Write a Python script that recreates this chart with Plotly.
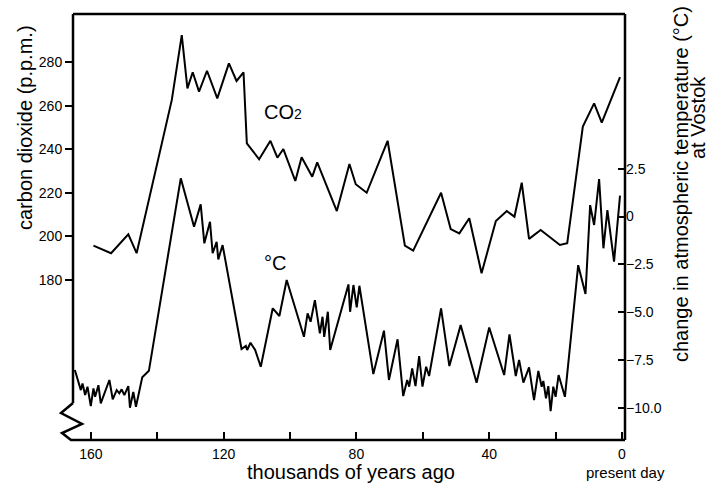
import plotly.graph_objects as go

# ---------------- data ----------------
co2_age = [159.2, 153.9, 148.7, 146.2, 135.6, 132.6, 130.9, 129.3, 127.4, 125.0,
           121.9, 118.4, 116.1, 114.0, 113.0, 109.3, 105.9, 103.8, 102.0, 98.4,
           96.5, 93.3, 91.8, 85.9, 82.1, 80.2, 76.9, 70.6, 65.4, 62.9,
           54.5, 51.6, 49.0, 46.0, 42.3, 38.0, 34.7, 32.4, 30.2, 28.0,
           24.5, 18.7, 16.5, 11.8, 8.4, 6.1, 0.6]
co2_ppm = [195.8, 192.3, 201.0, 192.3, 262.8, 292.6, 268.1, 275.5, 266.6, 276.2,
           263.5, 279.6, 271.5, 275.5, 242.8, 235.5, 244.0, 236.2, 240.2, 225.5,
           236.4, 227.5, 234.1, 211.7, 233.3, 224.0, 220.1, 244.0, 195.8, 193.5,
           220.1, 203.4, 201.4, 208.4, 183.1, 207.1, 211.7, 209.1, 224.7, 198.9,
           203.0, 196.1, 196.9, 250.5, 261.2, 252.3, 273.3]

temp_age = [164.8, 163.0, 162.5, 161.7, 161.0, 160.0, 159.2, 158.7, 157.7, 157.0,
            154.4, 153.4, 152.2, 151.4, 150.7, 149.9, 148.7, 148.2, 147.2, 146.4,
            144.5, 142.5, 132.9, 128.9, 126.9, 125.8, 124.1, 123.3, 122.1, 121.6,
            120.3, 114.6, 113.3, 112.9, 111.9, 110.5, 108.8, 105.2, 103.2, 101.0,
            95.8, 94.7, 93.8, 92.5, 91.0, 90.2, 89.7, 88.6, 87.9, 82.4,
            81.9, 80.9, 79.9, 79.1, 74.9, 71.7, 70.2, 67.6, 65.9, 64.7,
            64.1, 63.2, 62.2, 61.1, 60.1, 59.0, 58.1, 54.5, 52.0, 48.6,
            43.8, 40.0, 35.5, 33.9, 32.0, 31.0, 29.7, 28.0, 26.5, 25.2,
            24.2, 23.7, 22.9, 22.2, 21.5, 20.7, 20.0, 19.1, 17.2, 13.2,
            11.0, 9.6, 8.4, 6.9, 5.6, 4.4, 2.4, 0.6]
temp_change = [-8.03, -9.08, -8.73, -9.34, -8.90, -9.91, -8.99, -9.43, -8.82, -9.77,
               -8.55, -9.56, -9.08, -9.25, -9.04, -9.34, -8.87, -10.00, -9.17, -9.95,
               -8.41, -8.07, 2.00, -0.53, 0.64, -1.40, -0.27, -1.92, -1.32, -2.24,
               -1.49, -6.93, -6.77, -6.98, -6.60, -6.98, -7.86, -4.80, -5.20, -3.32,
               -6.29, -5.06, -5.50, -4.37, -6.11, -5.24, -6.29, -4.98, -6.98, -3.55,
               -4.98, -3.58, -4.75, -3.62, -8.24, -5.97, -8.55, -6.42, -9.39, -8.55,
               -8.90, -7.94, -8.87, -7.30, -8.90, -7.86, -8.34, -4.80, -7.82, -5.68,
               -8.69, -5.80, -8.29, -6.16, -8.34, -7.50, -8.69, -7.89, -9.60, -8.08,
               -8.90, -8.60, -9.51, -8.87, -10.18, -8.90, -9.43, -8.29, -9.43, -2.54,
               -4.05, 0.60, -0.44, 1.96, -1.66, 0.34, -2.36, 1.10]

x_tickvals = [160, 140, 120, 100, 80, 60, 40, 20, 0]
x_ticktext = ["160", "", "120", "", "80", "", "40", "", "0"]
co2_tickvals = [180, 200, 220, 240, 260, 280]
temp_tickvals = [-10, -7.5, -5, -2.5, 0, 2.5]
temp_ticktext = ["\u221210.0", "\u22127.5", "\u22125.0", "\u22122.5", "0", "2.5"]

FONT = "Liberation Sans, Arial, Helvetica, sans-serif"

# ---------------- layout geometry ----------------
W, H = 708, 483
L, R, T, B = 73, 625, 14, 440          # plot area in pixels
pw, ph = R - L, B - T


def px(xp):
    return (xp - L) / pw


def py(yp):
    return (B - yp) / ph


fig = go.Figure()
fig.add_trace(go.Scatter(x=co2_age, y=co2_ppm, mode="lines",
                         line=dict(color="black", width=2), yaxis="y",
                         showlegend=False, hoverinfo="skip"))
fig.add_trace(go.Scatter(x=temp_age, y=temp_change, mode="lines",
                         line=dict(color="black", width=2), yaxis="y2",
                         showlegend=False, hoverinfo="skip"))

axis_common = dict(showgrid=False, zeroline=False, showline=False,
                   tickcolor="black", tickwidth=2,
                   tickfont=dict(family=FONT, size=14, color="black"))

fig.update_layout(
    width=W, height=H,
    margin=dict(l=L, r=W - R, t=T, b=H - B, pad=0),
    paper_bgcolor="white", plot_bgcolor="white",
    font=dict(family=FONT, color="black"),
    xaxis=dict(range=[165.36, -0.9], tickmode="array", tickvals=x_tickvals,
               ticktext=x_ticktext, ticks="inside", ticklen=8,
               ticklabelstandoff=4, **axis_common),
    yaxis=dict(range=[106.4, 302.3], tickmode="array", tickvals=co2_tickvals,
               ticks="outside", ticklen=7, **axis_common),
    yaxis2=dict(range=[-11.69, 10.6], overlaying="y", side="right",
                tickmode="array", tickvals=temp_tickvals, ticktext=temp_ticktext,
                ticks="inside", ticklen=7, **axis_common),
)

frame = dict(color="black", width=2.5)
shapes = [
    dict(type="line", xref="paper", yref="paper", x0=0, x1=1, y0=1, y1=1, line=frame),
    dict(type="line", xref="paper", yref="paper", x0=1, x1=1, y0=0, y1=1, line=frame),
    dict(type="line", xref="paper", yref="paper", x0=0, x1=0, y0=py(403), y1=1, line=frame),
    dict(type="path", xref="paper", yref="paper", line=frame,
         path=("M {:.4f},{:.4f} L {:.4f},{:.4f} L {:.4f},{:.4f} L {:.4f},{:.4f} "
               "L {:.4f},{:.4f} L {:.4f},{:.4f}").format(
             px(73), py(403), px(61), py(413), px(82), py(424),
             px(62), py(433), px(71), py(440), px(625), py(440))),
]
fig.update_layout(shapes=shapes)

ann = [
    dict(text="carbon dioxide (p.p.m.)", x=px(25), y=py(128), textangle=-90, size=20),
    dict(text="change in atmospheric temperature (\u00b0C)", x=px(681), y=py(184),
         textangle=-90, size=20),
    dict(text="at Vostok", x=px(698), y=py(118), textangle=-90, size=20),
    dict(text="thousands of years ago", x=px(351), y=py(472), textangle=0, size=20),
    dict(text="present day", x=px(625), y=py(473), textangle=0, size=15),
    dict(text="CO<span style='font-size:14px'>2</span>", x=px(283), y=py(112),
         textangle=0, size=20),
    dict(text="\u00b0C", x=px(275), y=py(263), textangle=0, size=20),
]
fig.update_layout(annotations=[
    dict(text=a["text"], x=a["x"], y=a["y"], xref="paper", yref="paper",
         xanchor="center", yanchor="middle", showarrow=False,
         textangle=a["textangle"],
         font=dict(family=FONT, size=a["size"], color="black"))
    for a in ann
])

fig.write_html("out.html")
